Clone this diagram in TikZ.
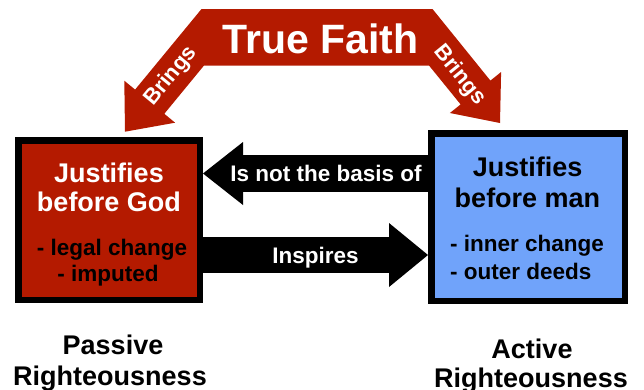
\documentclass[tikz,border=0pt]{standalone}
\usepackage{fontspec}
\setmainfont{Liberation Sans}
\usetikzlibrary{arrows.meta}
\definecolor{faithred}{RGB}{180,26,0}
\definecolor{manblue}{RGB}{112,163,250}
\tikzset{
  box/.style={draw=black, line width=6.5pt, inner sep=0pt},
  title/.style={font=\fontsize{27}{32}\selectfont\bfseries, anchor=base, inner sep=0pt},
  point/.style={font=\fontsize{22.5}{26}\selectfont\bfseries, anchor=base, inner sep=0pt},
  brings/.style={white, font=\fontsize{22}{22}\selectfont\bfseries, inner sep=0pt},
  fatarrow/.style={draw=black, line width=#1}
}
\begin{document}
\begin{tikzpicture}[x=1pt,y=1pt]
\useasboundingbox (0,0) rectangle (644,-389);
% the red forked arrow
\fill [faithred] (201.5,-9) -- (432.5,-9) -- (490.4,-80.6) -- (501.1,-72) -- (500,-123) -- (449.9,-113) -- (460.6,-104.4) -- (429,-65.5) -- (204,-65.5) -- (164.3,-113.8) -- (175.1,-122.7) -- (125,-131.7) -- (124.3,-80.7) -- (135.1,-89.6) -- cycle;
\node [white, font=\fontsize{41}{41}\selectfont\bfseries, anchor=base, inner sep=0pt] (faith) at (320.5,-53) {True Faith};
\node [brings, rotate=50.5] (bringsleft) at (171.2,-76.2) {Brings};
\node [brings, rotate=-51] (bringsright) at (459.5,-75.5) {Brings};
% boxes
\node [box, fill=faithred, minimum width=181.5pt, minimum height=159.5pt] (god) at (109,-220) {};
\node [box, fill=manblue, minimum width=193.5pt, minimum height=167.5pt] (man) at (528,-217) {};
\node [title, white] (godtitle) at (109,-182) {Justifies};
\node [title, white] (godtitleb) at (109,-211) {before God};
\node [point] (legal) at (112,-255) {- legal change};
\node [point] (imputed) at (108,-281) {- imputed};
\node [title] (mantitle) at (527.7,-176.7) {Justifies};
\node [title] (mantitleb) at (527.5,-207) {before man};
\node [point, anchor=base west] (inner) at (450,-251.7) {- inner change};
\node [point, anchor=base west] (outer) at (450,-279) {- outer deeds};
% black arrows
\coordinate (basisy) at (0,-173.5);
\coordinate (inspiresy) at (0,-255);
\draw [fatarrow=37pt, -{Triangle[length=40pt, width=63pt, line width=0pt]}] (man.west |- basisy) -- (god.east |- basisy)
  node [point, white, pos=0.453, yshift=-8.2pt] (basis) {Is not the basis of};
\draw [fatarrow=36pt, -{Triangle[length=39pt, width=64pt, line width=0pt]}] (god.east |- inspiresy) -- (man.west |- inspiresy)
  node [point, white, midway, yshift=-8.3pt] (inspires) {Inspires};
% captions
\node [title] (passive) at (113,-354) {Passive};
\node [title] (passiverighteous) at (110,-385) {Righteousness};
\node [title] (active) at (532,-358) {Active};
\node [title] (activerighteous) at (531,-387) {Righteousness};
\end{tikzpicture}
\end{document}
